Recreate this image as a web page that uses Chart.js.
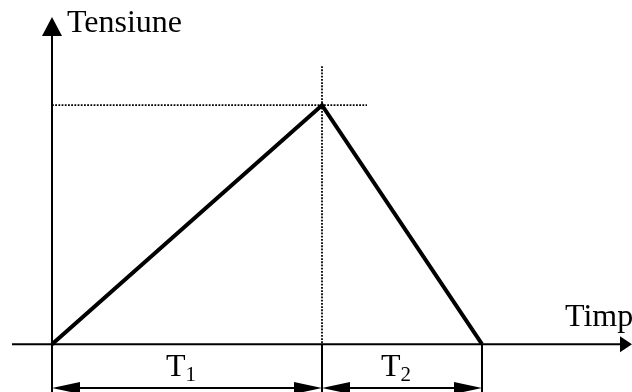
<!DOCTYPE html>
<html>
<head>
<meta charset="utf-8">
<script src="https://cdn.jsdelivr.net/npm/chart.js@4/dist/chart.umd.min.js"></script>
<style>
  body { margin: 0; background: #fff; }
  #grafic { display: block; }
</style>
</head>
<body>
<canvas id="grafic" width="632" height="392"></canvas>
<script>
// punctele semnalului: rampa T1 urcare, T2 coborare
const timp = [0, 27, 43];
const tensiune = [0, 10, 0];
const etichetaY = "Tensiune";
const etichetaX = "Timp";
const intervale = [["T", "1"], ["T", "2"]];

const FONT = "Liberation Serif, Times New Roman, serif";

function sageata(ctx, xVarf, yVarf, dx, dy, lung, lat) {
  // triunghi plin cu varful in (xVarf, yVarf), orientat pe directia (dx, dy)
  const px = -dy, py = dx;
  ctx.beginPath();
  ctx.moveTo(xVarf, yVarf);
  ctx.lineTo(xVarf - dx * lung + px * lat, yVarf - dy * lung + py * lat);
  ctx.lineTo(xVarf - dx * lung - px * lat, yVarf - dy * lung - py * lat);
  ctx.closePath();
  ctx.fill();
}

function linie(ctx, x1, y1, x2, y2) {
  ctx.beginPath();
  ctx.moveTo(x1, y1);
  ctx.lineTo(x2, y2);
  ctx.stroke();
}

function textIndice(ctx, baza, indice, x, y) {
  ctx.font = "32px " + FONT;
  ctx.fillText(baza, x, y);
  const w = ctx.measureText(baza).width;
  ctx.font = "21px " + FONT;
  ctx.fillText(indice, x + w, y + 5);
}

const axePlugin = {
  id: "axe",
  beforeDatasetsDraw(chart) {
    const ctx = chart.ctx;
    const sx = chart.scales.x, sy = chart.scales.y;
    const x0 = sx.getPixelForValue(0);
    const y0 = sy.getPixelForValue(0);
    const xVarf = sx.getPixelForValue(timp[1]);
    const yVarf = sy.getPixelForValue(tensiune[1]);
    const xSfarsit = sx.getPixelForValue(timp[2]);
    const H = chart.height, W = chart.width;

    ctx.save();
    ctx.strokeStyle = "#000";
    ctx.fillStyle = "#000";

    // linii punctate catre varf
    ctx.lineWidth = 1.8;
    ctx.setLineDash([1.8, 1.4]);
    linie(ctx, x0, yVarf, xVarf + 45, yVarf);
    linie(ctx, xVarf, yVarf - 39, xVarf, y0);
    ctx.setLineDash([]);

    // axa Y
    ctx.lineWidth = 2;
    linie(ctx, x0, H, x0, 34);
    sageata(ctx, x0, 17, 0, -1, 19, 10);

    // axa X
    linie(ctx, 12, y0, W - 10, y0);
    sageata(ctx, W, y0, 1, 0, 12, 8);

    // repere verticale sub axa
    linie(ctx, xVarf, y0, xVarf, H);
    linie(ctx, xSfarsit, y0, xSfarsit, H);

    // cote T1, T2
    const yCota = 388;
    const limite = [[x0, xVarf], [xVarf, xSfarsit]];
    limite.forEach(([a, b], i) => {
      linie(ctx, a + 20, yCota, b - 20, yCota);
      sageata(ctx, a, yCota, -1, 0, 28, 6);
      sageata(ctx, b, yCota, 1, 0, 28, 6);
      const mijloc = (a + b) / 2;
      textIndice(ctx, intervale[i][0], intervale[i][1], mijloc - 21, 376);
    });

    ctx.font = "32px " + FONT;
    ctx.fillText(etichetaY, x0 + 15, 32);
    ctx.fillText(etichetaX, 565, 326);
    ctx.restore();
  }
};

new Chart(document.getElementById("grafic"), {
  type: "line",
  data: {
    datasets: [{
      data: timp.map((t, i) => ({ x: t, y: tensiune[i] })),
      borderColor: "#000",
      borderWidth: 4,
      borderJoinStyle: "miter",
      pointRadius: 0,
      tension: 0,
      fill: false
    }]
  },
  options: {
    responsive: false,
    animation: false,
    layout: { padding: 0 },
    plugins: { legend: { display: false }, tooltip: { enabled: false } },
    scales: {
      x: { type: "linear", min: -5.2, max: 58, display: false },
      y: { min: -2, max: 14.4, display: false }
    }
  },
  plugins: [axePlugin]
});
</script>
</body>
</html>
